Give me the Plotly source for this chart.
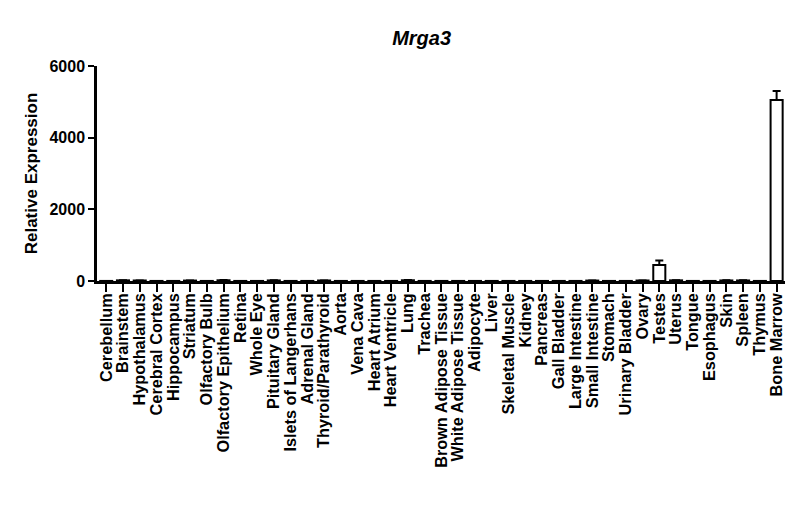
import plotly.graph_objects as go

tissues = ["Cerebellum", "Brainstem", "Hypothalamus", "Cerebral Cortex", "Hippocampus",
           "Striatum", "Olfactory Bulb", "Olfactory Epithelium", "Retina", "Whole Eye",
           "Pituitary Gland", "Islets of Langerhans", "Adrenal Gland", "Thyroid/Parathyroid",
           "Aorta", "Vena Cava", "Heart Atrium", "Heart Ventricle", "Lung", "Trachea",
           "Brown Adipose Tissue", "White Adipose Tissue", "Adipocyte", "Liver",
           "Skeletal Muscle", "Kidney", "Pancreas", "Gall Bladder", "Large Intestine",
           "Small Intestine", "Stomach", "Urinary Bladder", "Ovary", "Testes", "Uterus",
           "Tongue", "Esophagus", "Skin", "Spleen", "Thymus", "Bone Marrow"]

values = [2, 18, 14, 2, 2, 12, 2, 20, 2, 2,
          16, 2, 2, 14, 2, 2, 2, 2, 20, 2,
          2, 2, 2, 2, 2, 2, 2, 2, 2, 12,
          2, 2, 14, 450, 18, 2, 2, 15, 15, 2, 5050]

errors = [0, 4, 3, 0, 0, 3, 0, 5, 0, 0,
          4, 0, 0, 3, 0, 0, 0, 0, 5, 0,
          0, 0, 0, 0, 0, 0, 0, 0, 0, 3,
          0, 0, 3, 120, 4, 0, 0, 4, 4, 0, 250]

fig = go.Figure()
fig.add_trace(go.Bar(
    x=tissues, y=values,
    marker=dict(color="white", line=dict(color="black", width=2)),
    width=0.72,
    error_y=dict(type="data", array=errors, symmetric=False, arrayminus=[0]*len(errors),
                 color="black", thickness=2, width=4, visible=True),
))

fig.update_layout(
    width=800, height=517,
    paper_bgcolor="white", plot_bgcolor="white",
    margin=dict(l=89, r=23, t=58, b=244, autoexpand=False),
    showlegend=False,
    font=dict(family="Liberation Sans, Arial", color="black"),
    title=dict(text="<b><i>Mrga3</i></b>", x=0.517, xanchor="center", y=0.942, yanchor="middle",
               font=dict(size=20, family="Liberation Sans, Arial", color="black")),
)

fig.update_xaxes(
    type="category", range=[-0.55, 40.5], automargin=False,
    tickmode="array", tickvals=tissues, ticktext=tissues,
    showline=True, linecolor="black", linewidth=2.5,
    ticks="outside", ticklen=8, tickwidth=2, tickcolor="black",
    tickangle=-90, tickfont=dict(size=16.3, weight="bold", color="black"),
    ticklabelstandoff=-5,
    showgrid=False, zeroline=False,
)
fig.update_yaxes(
    range=[0, 6000], tickvals=[0, 2000, 4000, 6000], automargin=False,
    showline=True, linecolor="black", linewidth=2.5,
    ticks="outside", ticklen=6, tickwidth=2, tickcolor="black",
    tickfont=dict(size=16, weight="bold", color="black"),
    showgrid=False, zeroline=False,
    title=dict(text="<b>Relative Expression</b>", font=dict(size=17, color="black"), standoff=8),
)

fig.write_html("out.html")
